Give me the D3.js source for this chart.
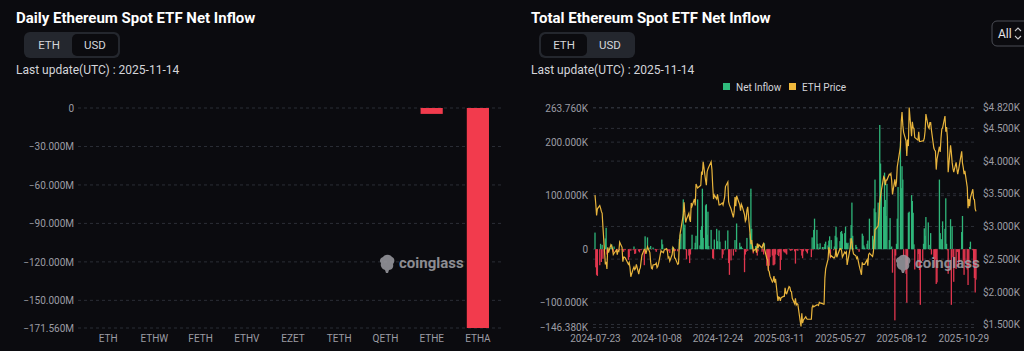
<!DOCTYPE html>
<html>
<head>
<meta charset="utf-8">
<script src="https://cdn.jsdelivr.net/npm/d3@7"></script>
<style>
  body { margin: 0; background: #0b0b0f; overflow: hidden; }
  svg { display: block; font-family: Roboto, "Noto Sans", sans-serif; }
  .axis text { font-family: "Liberation Sans Narrow", Roboto, sans-serif; font-size: 10px; fill: #9c9ca4; }
  .axis path { display: none; }
</style>
</head>
<body>
<svg id="chart" width="1024" height="351"></svg>
<script>
// ---- left panel: daily flow per ETF (USD, millions) ----
const etfTickers = ['ETH', 'ETHW', 'FETH', 'ETHV', 'EZET', 'TETH', 'QETH', 'ETHE', 'ETHA'];
const etfFlowM = [0, 0, 0, 0, 0, 0, 0, -4.6, -171.56];
const dailyTicks = [0, -30, -60, -90, -120, -150, -171.56];

// ---- right panel: total net inflow (thousand ETH) and ETH price (thousand USD), per trading day ----
const holidays = ['2024-09-02', '2024-11-28', '2024-12-25', '2025-01-01', '2025-01-09', '2025-01-20',
  '2025-02-17', '2025-04-18', '2025-05-26', '2025-06-19', '2025-07-04', '2025-09-01'];

const flow2024Jul = [31, -34, -48, -50, -30, 10, -24];
const flow2024Aug = [8, -18, 20, 40, -10, 1, 1, 2, 9, 0, -6, 5, -5, -2, 0, 0, -2, -1, -2, -5, -1, -2];
const flow2024Sep = [-20, -15, 0, -3, -2, 5, -9, -8, 0, -4, -6, -1, -2, 0, -30, 24, 1, 0, 22, 3];
const flow2024Oct = [6, -1, 0, 3, -2, -5, 0, -1, 0, 0, 18, 9, 0, 1, 0, -3, -4, 0, -7, 1, 4, 2, -4];
const flow2024Nov = [-3, -4, 0, 19, 27, 29, 93, 40, 46, -1, -19, -12, -26, -10, 1, 27, 1, 12, 25, 93];
const flow2024Dec = [7, 36, 43, 113, 21, 82, 84, 27, 70, 6, 36, 1, -17, -18, 18, 38, 15, 35, 14, -17, -10];
const flow2025Jan = [-2, 16, 35, -26, -48, -21, -12, -1, 17, -5, 48, 12, 4, 5, 2, -43, -10, -5, 21, -3];
const flow2025Feb = [29, 113, 38, 6, -8, 6, 5, -12, -4, 1, -5, -2, -10, 11, -31, -20, -40, -31, -15];
const flow2025Mar = [-12, -30, -30, -28, -10, -11, -13, -6, -39, -20, -4, -6, -6, -8, -10, 1, -2, -3, -2, -2, -4];
const flow2025Apr = [-27, -2, -2, -3, -1, -2, -12, -17, -4, -3, -5, -8, -2, -15, 22, -2, 36, 57, 36, 10, -1];
const flow2025May = [3, 11, 4, -1, 4, 10, 14, 7, 16, 24, -17, 17, -2, 5, 25, 42, 22, 15, 32, 34, 29];
const flow2025Jun = [30, 42, 12, 10, 12, 20, 45, 87, 25, 1, 8, 4, -1, -5, 0, 29, 25, 7, 3, 10];
const flow2025Jul = [16, -1, 57, 25, 18, 76, 130, 69, 87, 60, 232, 160, 113, 79, 143, 92, 62, 122, 17, 58, 2, 5];
const flow2025Aug = [-44, -133, -12, 10, 57, 116, 198, 114, 155, 130, -13, -46, -100, -30, 68, 70, 101, 90, 68, 9, -38];
const flow2025Sep = [-31, -9, -39, -104, -22, 10, 39, 25, 60, 50, 8, -1, 30, -10, -18, -34, -19, -65, -62, 130, 30];
const flow2025Oct = [19, 18, 52, 38, 95, 10, -2, -46, 56, -104, 43, -15, -61, -37, -5, -5, -33, -24, 32, 62, -21, -48, -25];
const flow2025Nov = [-38, -67, -35, 4, 14, -2, -31, -54, -81, -57];

const price2024Jul = [3.48, 3.34, 3.17, 3.27, 3.32, 3.28, 3.23];
const price2024Aug = [3.20, 2.99, 2.42, 2.46, 2.35, 2.68, 2.60, 2.72, 2.70, 2.66, 2.57, 2.59, 2.64, 2.57, 2.63, 2.62, 2.76, 2.68, 2.46, 2.53, 2.53, 2.52];
const price2024Sep = [2.42, 2.45, 2.37, 2.23, 2.35, 2.38, 2.34, 2.36, 2.42, 2.27, 2.34, 2.37, 2.47, 2.56, 2.65, 2.65, 2.58, 2.63, 2.69, 2.60];
const price2024Oct = [2.45, 2.36, 2.35, 2.41, 2.42, 2.44, 2.37, 2.39, 2.44, 2.63, 2.61, 2.61, 2.60, 2.64, 2.66, 2.62, 2.52, 2.53, 2.47, 2.57, 2.68, 2.66, 2.52];
const price2024Nov = [2.51, 2.42, 2.43, 2.72, 2.89, 2.96, 3.18, 3.37, 3.19, 3.06, 3.11, 3.20, 3.11, 3.07, 3.36, 3.31, 3.42, 3.32, 3.65, 3.59];
const price2024Dec = [3.62, 3.63, 3.84, 3.79, 3.99, 3.71, 3.63, 3.84, 3.88, 3.91, 3.99, 3.87, 3.62, 3.42, 3.48, 3.42, 3.49, 3.33, 3.33, 3.36, 3.33];
const price2025Jan = [3.45, 3.61, 3.68, 3.38, 3.33, 3.27, 3.14, 3.23, 3.45, 3.31, 3.47, 3.33, 3.24, 3.34, 3.31, 3.18, 3.08, 3.11, 3.25, 3.30];
const price2025Feb = [2.88, 2.73, 2.79, 2.69, 2.62, 2.66, 2.60, 2.74, 2.67, 2.72, 2.67, 2.72, 2.74, 2.66, 2.51, 2.49, 2.33, 2.31, 2.24];
const price2025Mar = [2.15, 2.17, 2.24, 2.14, 2.20, 1.86, 1.92, 1.91, 1.86, 1.91, 1.93, 1.93, 2.06, 1.98, 1.97, 2.08, 2.07, 2.01, 2.00, 1.90, 1.82];
const price2025Apr = [1.90, 1.80, 1.82, 1.81, 1.55, 1.47, 1.67, 1.52, 1.57, 1.62, 1.59, 1.58, 1.58, 1.58, 1.76, 1.79, 1.77, 1.78, 1.80, 1.80, 1.79];
const price2025May = [1.84, 1.83, 1.82, 1.81, 1.81, 2.21, 2.35, 2.50, 2.68, 2.61, 2.54, 2.55, 2.52, 2.52, 2.55, 2.66, 2.53, 2.66, 2.66, 2.63, 2.53];
const price2025Jun = [2.61, 2.59, 2.61, 2.41, 2.48, 2.68, 2.82, 2.77, 2.64, 2.58, 2.55, 2.51, 2.53, 2.41, 2.26, 2.45, 2.42, 2.42, 2.42, 2.49];
const price2025Jul = [2.40, 2.57, 2.59, 2.54, 2.61, 2.77, 2.95, 2.96, 3.01, 3.14, 3.37, 3.48, 3.55, 3.76, 3.74, 3.63, 3.71, 3.71, 3.80, 3.79, 3.81, 3.70];
const price2025Aug = [3.49, 3.72, 3.61, 3.68, 3.91, 3.99, 4.22, 4.60, 4.75, 4.55, 4.44, 4.31, 4.08, 4.33, 4.23, 4.82, 4.38, 4.60, 4.51, 4.50, 4.36];
const price2025Sep = [4.32, 4.45, 4.30, 4.30, 4.31, 4.31, 4.35, 4.46, 4.72, 4.52, 4.50, 4.59, 4.59, 4.47, 4.20, 4.17, 4.15, 3.87, 4.03, 4.22, 4.14];
const price2025Oct = [4.35, 4.49, 4.51, 4.69, 4.45, 4.52, 4.37, 3.83, 4.24, 4.13, 3.98, 3.89, 3.83, 3.98, 3.88, 3.80, 3.86, 3.93, 4.15, 3.97, 3.90, 3.80, 3.85];
const price2025Nov = [3.60, 3.28, 3.42, 3.31, 3.44, 3.57, 3.42, 3.41, 3.27, 3.23];

const flowTicks = [263.76, 200, 100, 0, -100, -146.38];
const priceTicks = [4.82, 4.5, 4.0, 3.5, 3.0, 2.5, 2.0, 1.5];
const dateTicks = ['2024-07-23', '2024-10-08', '2024-12-24', '2025-03-11', '2025-05-27', '2025-08-12', '2025-10-29'];

const monthRows = [
  ['2024-07', flow2024Jul, price2024Jul], ['2024-08', flow2024Aug, price2024Aug],
  ['2024-09', flow2024Sep, price2024Sep], ['2024-10', flow2024Oct, price2024Oct],
  ['2024-11', flow2024Nov, price2024Nov], ['2024-12', flow2024Dec, price2024Dec],
  ['2025-01', flow2025Jan, price2025Jan], ['2025-02', flow2025Feb, price2025Feb],
  ['2025-03', flow2025Mar, price2025Mar], ['2025-04', flow2025Apr, price2025Apr],
  ['2025-05', flow2025May, price2025May], ['2025-06', flow2025Jun, price2025Jun],
  ['2025-07', flow2025Jul, price2025Jul], ['2025-08', flow2025Aug, price2025Aug],
  ['2025-09', flow2025Sep, price2025Sep], ['2025-10', flow2025Oct, price2025Oct],
  ['2025-11', flow2025Nov, price2025Nov]
];

const parseDay = d3.utcParse('%Y-%m-%d');
const fmtDay = d3.utcFormat('%Y-%m-%d');
const firstDay = parseDay('2024-07-23'), lastDay = parseDay('2025-11-14');

// build trading-day rows
const days = [];
monthRows.forEach(([ym, flows, prices]) => {
  const start = parseDay(ym + '-01');
  const tdays = d3.utcDays(start, d3.utcMonth.offset(start, 1))
    .filter(d => d >= firstDay && d <= lastDay && d.getUTCDay() % 6 !== 0 && !holidays.includes(fmtDay(d)));
  if (tdays.length !== flows.length || tdays.length !== prices.length) {
    console.warn(ym, tdays.length, flows.length, prices.length);
  }
  tdays.forEach((d, i) => {
    if (flows[i] !== undefined) days.push({ date: d, flow: flows[i], price: prices[i] });
  });
});

const svg = d3.select('#chart');
const gridColor = '#2b2e36';

function toggle(x, w, selected) {
  const g = svg.append('g');
  g.append('rect').attr('x', x).attr('y', 32).attr('width', w).attr('height', 26).attr('rx', 6).attr('fill', '#24272e');
  const half = (w - 4) / 2;
  g.append('rect').attr('x', selected === 0 ? x + 2 : x + 2 + half).attr('y', 34)
    .attr('width', half).attr('height', 22).attr('rx', 5).attr('fill', '#0b0b0f');
  ['ETH', 'USD'].forEach((t, i) => {
    g.append('text').attr('x', x + 2 + half * i + half / 2).attr('y', 49)
      .attr('text-anchor', 'middle').attr('font-size', 11.5).attr('fill', '#d4d5da').text(t);
  });
}

function header(x, title) {
  svg.append('text').attr('x', x).attr('y', 23).attr('font-size', 15).attr('font-weight', 700)
    .attr('fill', '#ffffff').text(title);
  svg.append('text').attr('x', x).attr('y', 74).attr('font-size', 12).attr('fill', '#d4d5da')
    .text('Last update(UTC) : 2025-11-14');
}

function watermark(x, y) {
  const g = svg.append('g').attr('transform', `translate(${x},${y})`).attr('opacity', 0.85);
  g.append('path')
    .attr('d', 'M3,2 C5,-1 10,-1 12,2 C15,3 15,7 13,9 C14,12 12,15 9,15 L8,18 L6,18 L5,15 C2,14 0,11 1,8 C-1,6 0,3 3,2 Z')
    .attr('fill', '#9c9ca2');
  g.append('text').attr('x', 19).attr('y', 13).attr('font-family', '"Liberation Sans Narrow", Roboto, sans-serif')
    .attr('font-size', 15).attr('font-weight', 700).attr('fill', '#a3a3a8').text('coinglass');
}

// ================= left chart =================
header(16, 'Daily Ethereum Spot ETF Net Inflow');
toggle(24, 96, 1);

const xL = d3.scaleBand().domain(etfTickers).range([85, 501]).paddingInner(0.52).paddingOuter(0.26);
const yL = d3.scaleLinear().domain([-171.56, 0]).range([328, 108]);

svg.append('g').selectAll('line').data(dailyTicks).join('line')
  .attr('x1', 78).attr('x2', 503).attr('y1', d => yL(d)).attr('y2', d => yL(d))
  .attr('stroke', gridColor).attr('stroke-dasharray', '3,3');

svg.append('g').attr('class', 'axis').attr('transform', 'translate(80,0)')
  .call(d3.axisLeft(yL).tickValues(dailyTicks).tickSize(0).tickPadding(6)
    .tickFormat(d => d === 0 ? '0' : d3.format('.3f')(d) + 'M'));

svg.append('g').attr('class', 'axis').attr('transform', 'translate(0,328)')
  .call(d3.axisBottom(xL).tickSize(0).tickPadding(7));

watermark(380, 255);

svg.append('g').selectAll('rect').data(etfTickers.map((t, i) => ({ t, v: etfFlowM[i] })).filter(d => d.v !== 0))
  .join('rect')
  .attr('x', d => xL(d.t)).attr('width', xL.bandwidth())
  .attr('y', d => yL(Math.max(0, d.v))).attr('height', d => Math.abs(yL(d.v) - yL(0)))
  .attr('fill', '#f23b4d');

// ================= right chart =================
header(531, 'Total Ethereum Spot ETF Net Inflow');
toggle(539, 96, 0);

// range selector
svg.append('rect').attr('x', 992).attr('y', 21).attr('width', 44).attr('height', 25).attr('rx', 5)
  .attr('fill', 'none').attr('stroke', '#4a4c54');
svg.append('text').attr('x', 998).attr('y', 38).attr('font-size', 12).attr('fill', '#e6e6ea').text('All');
svg.append('path').attr('d', 'M1015,31 l3,-3 l3,3 M1015,36 l3,3 l3,-3')
  .attr('fill', 'none').attr('stroke', '#c8c8cc').attr('stroke-width', 1.1);

// legend
const legend = svg.append('g').attr('font-size', 10).attr('fill', '#d4d5da');
[['Net Inflow', '#2fbb7c', 723], ['ETH Price', '#f0b93c', 789]].forEach(([label, color, x]) => {
  legend.append('rect').attr('x', x).attr('y', 83).attr('width', 7).attr('height', 7).attr('fill', color);
  legend.append('text').attr('x', x + 13).attr('y', 90.5).text(label);
});

const xR = d3.scaleUtc().domain([firstDay, lastDay]).range([595, 976]);
const yF = d3.scaleLinear().domain([-146.38, 263.76]).range([327.5, 108]);
const yP = d3.scaleLinear().domain([1.5, 4.82]).range([324.5, 107.5]);

const gridR = svg.append('g');
gridR.selectAll('line.f').data(flowTicks).join('line').attr('class', 'f')
  .attr('x1', 593).attr('x2', 977).attr('y1', d => yF(d)).attr('y2', d => yF(d))
  .attr('stroke', gridColor).attr('stroke-dasharray', '3,3');
gridR.selectAll('line.p').data(priceTicks).join('line').attr('class', 'p')
  .attr('x1', 593).attr('x2', 977).attr('y1', d => yP(d)).attr('y2', d => yP(d))
  .attr('stroke', gridColor).attr('stroke-dasharray', '3,3');

svg.append('g').attr('class', 'axis').attr('transform', 'translate(593,0)')
  .call(d3.axisLeft(yF).tickValues(flowTicks).tickSize(0).tickPadding(5)
    .tickFormat(d => d === 0 ? '0' : d3.format('.3f')(d) + 'K'));

svg.append('g').attr('class', 'axis').attr('transform', 'translate(977,0)')
  .call(d3.axisRight(yP).tickValues(priceTicks).tickSize(0).tickPadding(6)
    .tickFormat(d => '$' + d3.format('.3f')(d) + 'K'));

svg.append('g').attr('class', 'axis').attr('transform', 'translate(0,327.5)')
  .call(d3.axisBottom(xR).tickValues(dateTicks.map(parseDay)).tickSize(0).tickPadding(7)
    .tickFormat(fmtDay));

svg.append('g').selectAll('rect').data(days).join('rect')
  .attr('x', d => xR(d.date) - 0.65).attr('width', 1.3)
  .attr('y', d => yF(Math.max(0, d.flow))).attr('height', d => Math.abs(yF(d.flow) - yF(0)))
  .attr('fill', d => d.flow >= 0 ? '#2fb67a' : '#e0364e');

svg.append('path').datum(days)
  .attr('d', d3.line().x(d => xR(d.date)).y(d => yP(d.price)))
  .attr('fill', 'none').attr('stroke', '#e8b43c').attr('stroke-width', 1.2);

watermark(896, 255);
</script>
</body>
</html>
